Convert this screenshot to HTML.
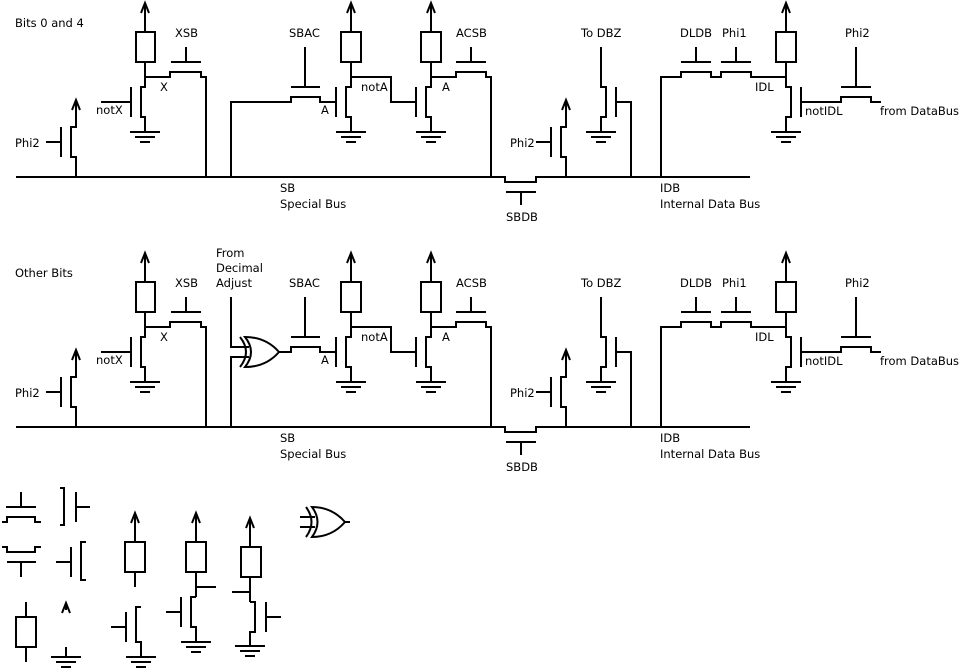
<!DOCTYPE html>
<html><head><meta charset="utf-8"><style>
html,body{margin:0;padding:0;background:#fff;}
svg{display:block;}
text{font-family:"DejaVu Sans","Liberation Sans",sans-serif;font-size:11.5px;fill:#000;}
</style></head><body>
<svg width="960" height="670" viewBox="0 0 960 670" xmlns="http://www.w3.org/2000/svg" font-size="11.5">
<defs>
<g id="sec" fill="none" stroke="#000" stroke-width="2">
<path d="M16,177 H505 V182 H536 V177 H750"/>
<path d="M506,192 H536 M521,192 V205"/>
<path d="M145,3 V32 M141,13 L145,3 L149,13"/>
<rect x="136" y="32" width="19" height="30"/>
<path d="M145,62 V87 H141 V117 H145 V132"/>
<path d="M145,77 H170 V72 H201 V77 H206 V177"/>
<path d="M171,62 H201 M186,47 V62"/>
<path d="M131,87 V117 M101,102 H131"/>
<path d="M130,132 H160 M135,137 H155 M140,142 H150"/>
<path d="M76,100 V127 H71 V157 H76 V177 M72,110 L76,100 L80,110"/>
<path d="M61,127 V157 M46,142 H61"/>
<path d="M291,87 H320 M305,47 V87"/>
<path d="M351,3 V32 M347,13 L351,3 L355,13"/>
<rect x="341" y="32" width="20" height="30"/>
<path d="M351,62 V87 H346 V117 H351 V132"/>
<path d="M336,87 V117"/>
<path d="M351,77 H391 V102 H416 M416,87 V117"/>
<path d="M336,132 H366 M341,137 H361 M346,142 H356"/>
<path d="M431,3 V32 M427,13 L431,3 L435,13"/>
<rect x="421" y="32" width="20" height="30"/>
<path d="M431,62 V87 H426 V117 H431 V132"/>
<path d="M431,77 H456 V72 H486 V77 H491 V177"/>
<path d="M456,62 H486 M471,47 V62"/>
<path d="M416,132 H446 M421,137 H441 M426,142 H436"/>
<path d="M566,100 V127 H561 V157 H566 V177 M562,110 L566,100 L570,110"/>
<path d="M551,127 V157 M536,142 H551"/>
<path d="M601,47 V87 H606 V117 H601 V132"/>
<path d="M616,87 V117 M616,102 H631 V177"/>
<path d="M586,132 H616 M591,137 H611 M596,142 H606"/>
<path d="M661,177 V77 H681 V72 H711 V77 H721 V72 H751 V77 H786"/>
<path d="M681,62 H711 M696,47 V62 M721,62 H751 M736,47 V62"/>
<path d="M786,3 V32 M782,13 L786,3 L790,13"/>
<rect x="776" y="32" width="20" height="30"/>
<path d="M786,62 V87 H791 V117 H786 V132"/>
<path d="M801,87 V117 M801,102 H841 V97 H871 V102 H881"/>
<path d="M841,87 H871 M856,47 V87"/>
<path d="M771,132 H801 M776,137 H796 M781,142 H791"/>
</g>
</defs>
<use href="#sec"/>
<use href="#sec" transform="translate(0,250)"/>
<g fill="none" stroke="#000" stroke-width="2">
<path d="M231,177 V102 H291 V97 H320 V102 H336"/>
<path d="M231,427 V357 H249 M231,297 V347 H249"/>
<path d="M245,337 Q257,352 245,367 Q266,367 279,352 Q266,337 245,337 Z"/>
<path d="M240,337 Q252,352 240,367"/>
<path d="M279,352 H291 V347 H320 V352 H336"/>
<path d="M21,492 V507 M6,507 H36 M2,522 H7 V517 H35 V522 H41"/>
<path d="M2,547 H7 V552 H35 V547 H41 M7,562 H36 M21,562 V577"/>
<path d="M60,488 H64 V525 H60 M76,492 V522 M76,507 H90"/>
<path d="M56,562 H71 M71,547 V577 M86,542 H81 V580 H86"/>
<path d="M135,513 V542 M131,523 L135,513 L139,523 M135,572 V587"/>
<rect x="125" y="542" width="20" height="30"/>
<rect x="16" y="617" width="20" height="30"/>
<path d="M26,602 V617 M26,647 V662"/>
<path d="M62,613 L66,603 L70,613 M66,603 V610"/>
<path d="M66,647 V657 M51,657 H81 M56,662 H76 M61,667 H71"/>
<path d="M111,627 H126 M126,612 V642 M141,607 H136 V642 H141 V657 M126,657 H156 M131,662 H151 M136,667 H146"/>
<path d="M196,513 V542 M192,523 L196,513 L200,523 M196,572 V597 M196,587 H216 M196,597 H191 V627 H196 V642 M181,597 V627 M166,612 H181 M181,642 H211 M186,647 H206 M191,652 H201"/>
<rect x="186" y="542" width="20" height="30"/>
<path d="M250,518 V547 M246,528 L250,518 L254,528 M250,577 V602 M232,592 H250 M250,602 H255 V632 H250 V646 M266,602 V632 M266,617 H281 M235,646 H265 M240,651 H260 M245,656 H255"/>
<rect x="241" y="547" width="20" height="30"/>
<path d="M312,507 Q323,522 312,537 Q332,537 345,522 Q332,507 312,507 Z"/>
<path d="M306,507 Q317,522 306,537"/>
<path d="M300,517 H315 M300,527 H315 M345,522 H350"/>
</g>
<text x="15" y="27">Bits 0 and 4</text>
<text x="15" y="277">Other Bits</text>
<g>
<text x="175" y="37">XSB</text><text x="289" y="37">SBAC</text><text x="456" y="37">ACSB</text><text x="581" y="37">To DBZ</text><text x="680" y="37">DLDB</text><text x="722" y="37">Phi1</text><text x="845" y="37">Phi2</text>
<text x="160" y="91">X</text><text x="96" y="114">notX</text><text x="15" y="147">Phi2</text><text x="361" y="91">notA</text><text x="321" y="114">A</text><text x="442" y="91">A</text>
<text x="510" y="147">Phi2</text><text x="755" y="91">IDL</text><text x="805" y="115">notIDL</text><text x="880" y="115">from DataBus</text>
<text x="280" y="192">SB</text><text x="280" y="208">Special Bus</text><text x="506" y="221">SBDB</text><text x="660" y="192">IDB</text><text x="660" y="208">Internal Data Bus</text>
</g>
<g transform="translate(0,250)">
<text x="175" y="37">XSB</text><text x="289" y="37">SBAC</text><text x="456" y="37">ACSB</text><text x="581" y="37">To DBZ</text><text x="680" y="37">DLDB</text><text x="722" y="37">Phi1</text><text x="845" y="37">Phi2</text>
<text x="160" y="91">X</text><text x="96" y="114">notX</text><text x="15" y="147">Phi2</text><text x="361" y="91">notA</text><text x="321" y="114">A</text><text x="442" y="91">A</text>
<text x="510" y="147">Phi2</text><text x="755" y="91">IDL</text><text x="805" y="115">notIDL</text><text x="880" y="115">from DataBus</text>
<text x="280" y="192">SB</text><text x="280" y="208">Special Bus</text><text x="506" y="221">SBDB</text><text x="660" y="192">IDB</text><text x="660" y="208">Internal Data Bus</text>
</g>
<text x="216" y="257">From</text><text x="216" y="272">Decimal</text><text x="216" y="287">Adjust</text>
</svg>
</body></html>
